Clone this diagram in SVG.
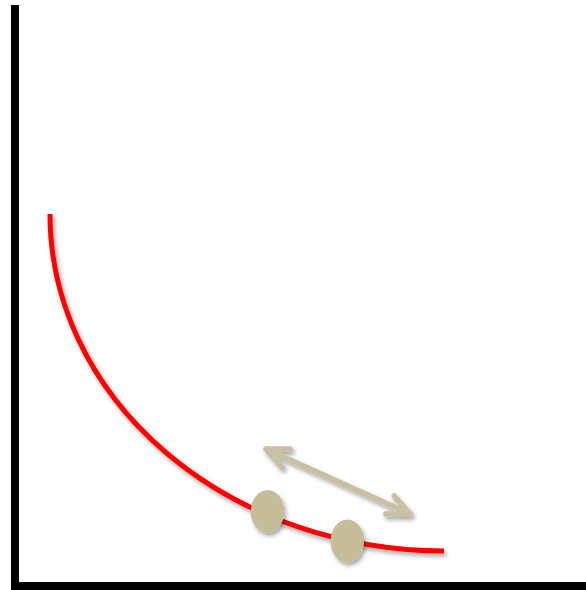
<svg xmlns="http://www.w3.org/2000/svg" width="586" height="590" viewBox="0 0 586 590">
  <style>
    .axis { fill: none; stroke: #000000; stroke-width: 8; stroke-linejoin: miter; }
    .curve { fill: none; stroke: #FF0000; stroke-width: 5; stroke-linecap: butt; }
    .dot { fill: #C5BD99; }
    .arrow { fill: none; stroke: #C8C0A0; stroke-width: 5.5; stroke-linecap: round; }
    .head { fill: none; stroke: #C8C0A0; stroke-width: 5.5; stroke-linecap: round; stroke-linejoin: round; }
  </style>
  <defs>
    <filter id="shadow" x="-20%" y="-20%" width="150%" height="150%">
      <feDropShadow dx="2" dy="3" stdDeviation="2" flood-color="#000000" flood-opacity="0.35"/>
    </filter>
    <marker id="chev" markerUnits="userSpaceOnUse" viewBox="-30 -15 35 30" refX="0" refY="0" markerWidth="35" markerHeight="30" orient="auto-start-reverse">
      <path class="head" d="M-22,-10 L0,0 L-22,10"/>
    </marker>
  </defs>
  <rect width="586" height="590" fill="#FFFFFF"/>
  <g id="axes">
    <path class="axis" d="M15,5 V586 H586"/>
  </g>
  <g id="curve" filter="url(#shadow)">
    <path class="curve" d="M50,214 A395,337 0 0 0 444,551"/>
  </g>
  <g id="connectors" filter="url(#shadow)">
    <line class="arrow" x1="266" y1="449" x2="410" y2="514" marker-start="url(#chev)" marker-end="url(#chev)"/>
  </g>
  <g id="point-a" filter="url(#shadow)">
    <ellipse class="dot" cx="267.5" cy="511.5" rx="16.7" ry="21.5"/>
  </g>
  <g id="point-b" filter="url(#shadow)">
    <ellipse class="dot" cx="347.3" cy="541" rx="16.7" ry="21.5"/>
  </g>
</svg>
